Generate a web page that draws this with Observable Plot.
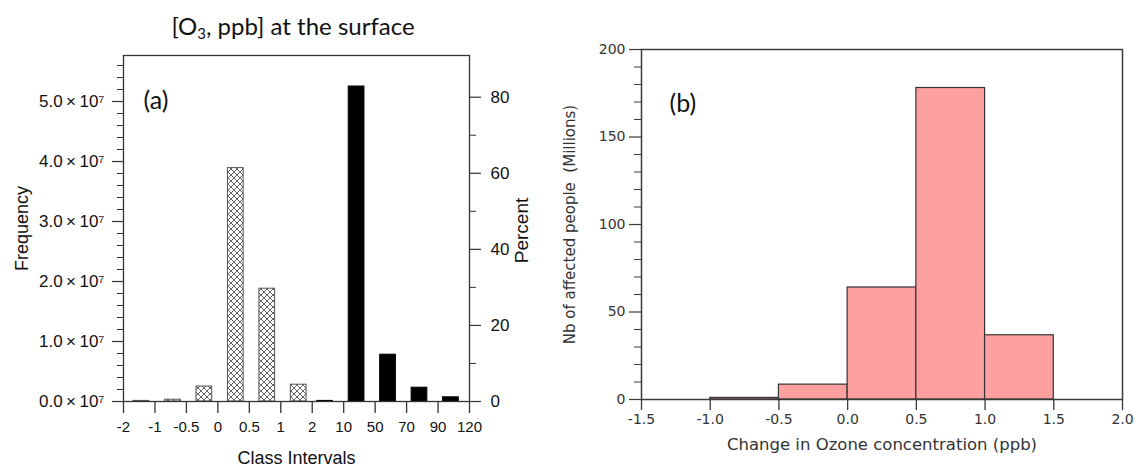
<!DOCTYPE html>
<html><head><meta charset="utf-8">
<script src="https://cdn.jsdelivr.net/npm/d3@7"></script>
<script src="https://cdn.jsdelivr.net/npm/@observablehq/plot@0.6"></script>
<style>
body{margin:0;background:#fff;width:1135px;height:468px;overflow:hidden;position:relative}
#title{position:absolute;left:0;top:7px;width:586px;text-align:center;font-family:Lato,"Open Sans",sans-serif;font-size:24px;line-height:38px;color:#111}
#title sub{font-size:0.62em;vertical-align:-0.3em;line-height:0}
#left{position:absolute;left:0;top:40px}
#right{position:absolute;left:545px;top:0}
svg{overflow:visible}
</style></head>
<body>
<div id="title">[O<sub>3</sub>, ppb] at the surface</div>
<div id="left"></div><div id="right"></div>
<script>
// ---------- Panel (a) data ----------
const classTicks = ["-2","-1","-0.5","0","0.5","1","2","10","50","70","90","120"];
// hatched series (change of surface O3) frequency per class interval
const changeFreq = [0.01e7, 0.03e7, 0.25e7, 3.89e7, 1.88e7, 0.28e7, 0, 0, 0, 0, 0];
// black series (O3 concentration) frequency per class interval
const concFreq   = [0, 0, 0, 0, 0, 0, 0.01e7, 5.25e7, 0.78e7, 0.23e7, 0.07e7];
const freqMajor = [0, 1e7, 2e7, 3e7, 4e7, 5e7];
const freqMinor = [0.2e7,0.4e7,0.6e7,0.8e7,1.2e7,1.4e7,1.6e7,1.8e7,2.2e7,2.4e7,2.6e7,2.8e7,3.2e7,3.4e7,3.6e7,3.8e7,4.2e7,4.4e7,4.6e7,4.8e7,5.2e7,5.4e7,5.6e7];
const pctMajor = [0, 20, 40, 60, 80];
const pctMinor = [10, 30, 50, 70];

// ---------- Panel (b) data ----------
const binEdges = [-1.0, -0.5, 0.0, 0.5, 1.0, 1.5];
const affected = [0.9, 8.5, 64, 178, 36.7];
const ozTicks = [-1.5, -1.0, -0.5, 0.0, 0.5, 1.0, 1.5, 2.0];
const affMajor = [0, 50, 100, 150, 200];
const affMinor = [10,20,30,40,60,70,80,90,110,120,130,140,160,170,180,190];

// ---------- Panel (a) ----------
const TOTAL = d3.sum(changeFreq);
const hatched = changeFreq.map((v, i) => ({i, v})).filter(d => d.v > 0);
const solid = concFreq.map((v, i) => ({i, v})).filter(d => d.v > 0);
const fmtFreq = d => (d / 1e7).toFixed(1) + "\u2009×\u200910⁷";
const noText = () => "";
const axisCol = "#333";
const left = Plot.plot({
  width: 545, height: 428,
  marginLeft: 123, marginRight: 76, marginTop: 15, marginBottom: 67,
  style: {fontFamily: "'Liberation Sans', Arial, sans-serif", fontSize: "15px", color: "#111", background: "transparent"},
  x: {domain: [0, classTicks.length - 1], axis: null},
  y: {domain: [0, 5.767e7], axis: null},
  marks: [
    Plot.rectY(hatched, {x1: d => d.i + 0.32, x2: d => d.i + 0.82, y1: 0, y2: "v", fill: "url(#xhatch)", stroke: "#555", strokeWidth: 1}),
    Plot.rectY(solid, {x1: d => d.i + 0.16, x2: d => d.i + 0.66, y1: 0, y2: "v", fill: "#000", stroke: "#000", strokeWidth: 1}),
    Plot.frame({stroke: axisCol, strokeWidth: 1.3}),
    Plot.axisX(classTicks.map((_, i) => i), {tickFormat: i => classTicks[i], tickSize: 12, tickPadding: 8, stroke: axisCol, strokeWidth: 1.3, fontSize: 15, label: null}),
    Plot.axisY(freqMinor, {anchor: "left", tickSize: 6, tickFormat: noText, stroke: axisCol, strokeWidth: 1, label: null}),
    Plot.axisY(freqMajor, {anchor: "left", tickSize: 11, tickPadding: 8, tickFormat: fmtFreq, stroke: axisCol, strokeWidth: 1.2, fontSize: 17, label: null}),
    Plot.axisY(pctMinor.map(p => p / 100 * TOTAL), {anchor: "right", tickSize: 6, tickFormat: noText, stroke: axisCol, strokeWidth: 1, label: null}),
    Plot.axisY(pctMajor.map(p => p / 100 * TOTAL), {anchor: "right", tickSize: 11, tickPadding: 10, tickFormat: d => Math.round(d / TOTAL * 100), stroke: axisCol, strokeWidth: 1.2, fontSize: 17, label: null}),
    Plot.text(["Frequency"], {text: d => d, frameAnchor: "left", rotate: -90, dx: -101, textAnchor: "middle", lineAnchor: "middle", fontSize: 18}),
    Plot.text(["Percent"], {text: d => d, frameAnchor: "right", rotate: -90, dx: 52, dy: 2, textAnchor: "middle", lineAnchor: "middle", fontSize: 19}),
    Plot.text(["Class Intervals"], {text: d => d, frameAnchor: "bottom", dy: 57, textAnchor: "middle", lineAnchor: "middle", fontSize: 18}),
    Plot.text(["(a)"], {text: d => d, frameAnchor: "top-left", dx: 20, dy: 45, textAnchor: "start", lineAnchor: "middle", fontSize: 25, fontFamily: "Lato, 'Open Sans', sans-serif"})
  ]
});
// cross-hatch pattern
const defs = d3.select(left).insert("defs", ":first-child");
const pat = defs.append("pattern").attr("id", "xhatch").attr("patternUnits", "userSpaceOnUse").attr("width", 6).attr("height", 6);
pat.append("rect").attr("width", 6).attr("height", 6).attr("fill", "#fff");
pat.append("path").attr("d", "M0,0L6,6M6,0L0,6").attr("stroke", "#555").attr("stroke-width", 0.9).attr("fill", "none");
document.getElementById("left").append(left);

// ---------- Panel (b) ----------
const bins = affected.map((n, i) => ({x1: binEdges[i], x2: binEdges[i + 1], n}));
const rCol = "#3a3a3a";
const right = Plot.plot({
  width: 590, height: 468,
  marginLeft: 96, marginRight: 13, marginTop: 49, marginBottom: 69,
  style: {fontFamily: "'DejaVu Sans', Verdana, sans-serif", fontSize: "14px", color: "#333", background: "transparent"},
  x: {domain: [-1.5, 2.0], axis: null},
  y: {domain: [0, 200], axis: null},
  marks: [
    Plot.rectY(bins, {x1: "x1", x2: "x2", y1: 0, y2: "n", fill: "#ffa0a0", stroke: "#333", strokeWidth: 1.2}),
    Plot.frame({stroke: rCol, strokeWidth: 1.5}),
    Plot.axisX(ozTicks, {tickSize: 11, tickPadding: 4, tickFormat: d => d.toFixed(1), stroke: rCol, strokeWidth: 1.3, fontSize: 14, label: null}),
    Plot.axisY(affMinor, {anchor: "left", tickSize: 7, tickFormat: noText, stroke: rCol, strokeWidth: 1, label: null}),
    Plot.axisY(affMajor, {anchor: "left", tickSize: 12, tickPadding: 4, stroke: rCol, strokeWidth: 1.2, fontSize: 14, label: null}),
    Plot.text(["Nb of affected people  (Millions)"], {text: d => d, frameAnchor: "left", rotate: -90, dx: -71, textAnchor: "middle", lineAnchor: "middle", fontSize: 15}),
    Plot.text(["Change in Ozone concentration (ppb)"], {text: d => d, frameAnchor: "bottom", dy: 45, textAnchor: "middle", lineAnchor: "middle", fontSize: 16.5}),
    Plot.text(["(b)"], {text: d => d, frameAnchor: "top-left", dx: 28, dy: 54, textAnchor: "start", lineAnchor: "middle", fontSize: 25, fontFamily: "Lato, 'Open Sans', sans-serif", fill: "#111"})
  ]
});
document.getElementById("right").append(right);
</script>
</body></html>
